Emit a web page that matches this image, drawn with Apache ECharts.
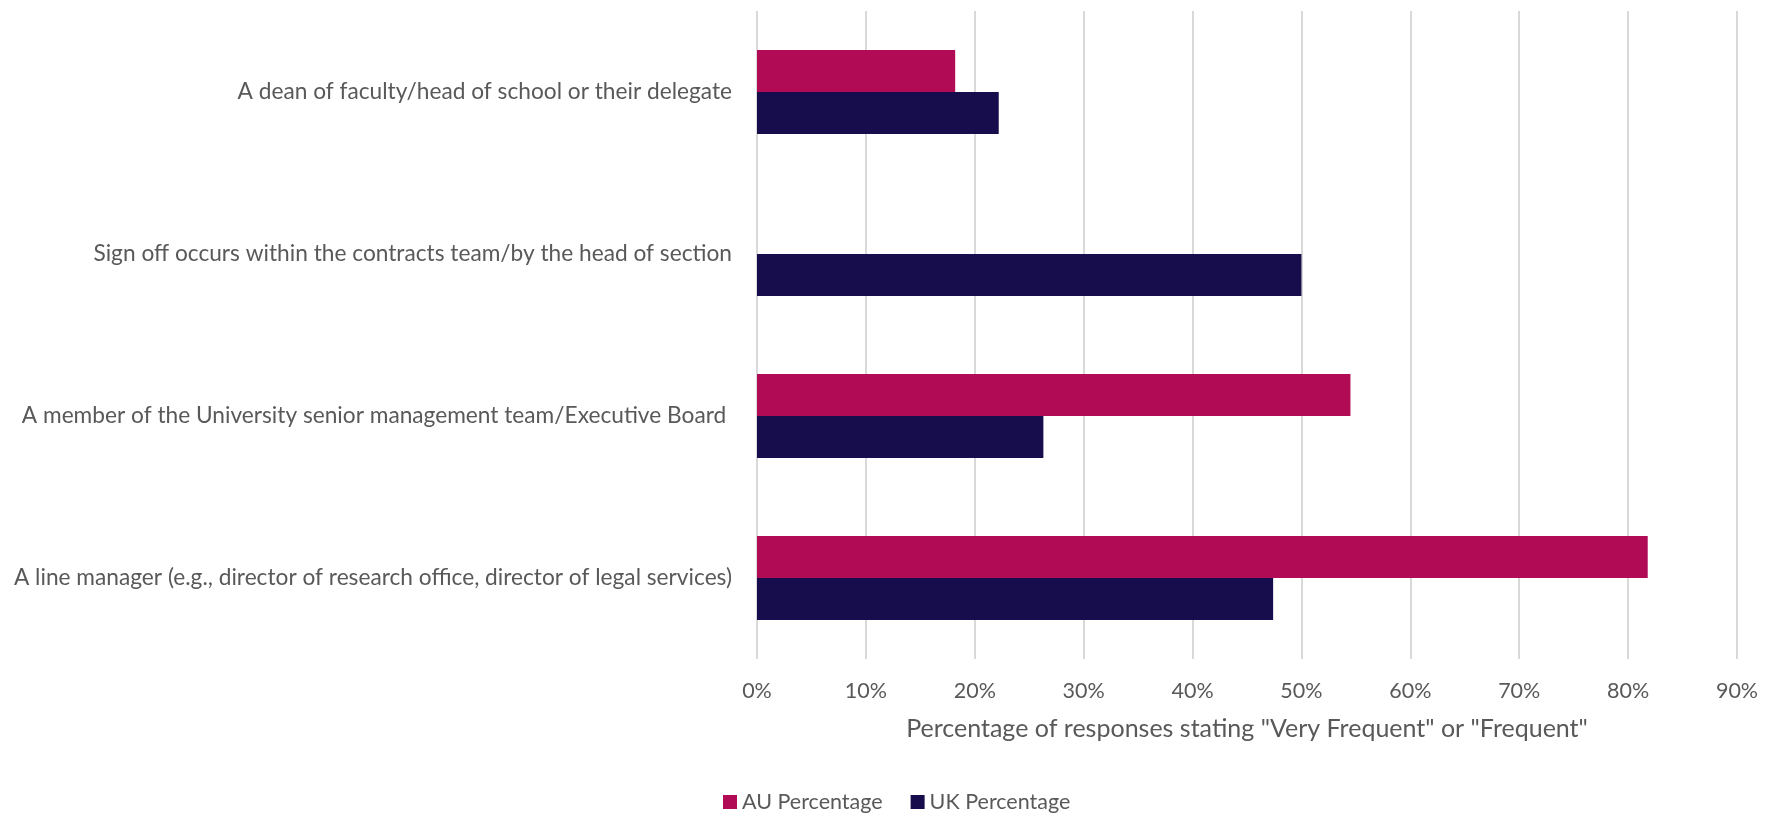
<!DOCTYPE html>
<html>
<head>
<meta charset="utf-8">
<script src="https://cdn.jsdelivr.net/npm/echarts@6/dist/echarts.min.js"></script>
<style>html,body{margin:0;padding:0;background:#fff}#c{width:1767px;height:813px}</style>
</head>
<body>
<div id="c"></div>
<script>
const categories = [
  "A dean of faculty/head of school or their delegate",
  "Sign off occurs within the contracts team/by the head of section",
  "A member of the University senior management team/Executive Board ",
  "A line manager (e.g., director of research office, director of legal services)"
];
const auPercentage = [18.2, 0, 54.5, 81.8];
const ukPercentage = [22.2, 50.0, 26.3, 47.4];
const xTicks = [0, 10, 20, 30, 40, 50, 60, 70, 80, 90];
const seriesNames = ["AU Percentage", "UK Percentage"];
const xAxisTitle = 'Percentage of responses stating "Very Frequent" or "Frequent"';

const FONT = 'Lato';
const TXT = '#595959';
const chart = echarts.init(document.getElementById('c'));
chart.setOption({
  animation: false,
  textStyle: { fontFamily: FONT },
  grid: { left: 757, right: 30, top: 11, bottom: 154, containLabel: false },
  legend: {
    data: seriesNames,
    top: 786, left: 718,
    icon: 'rect', itemWidth: 14, itemHeight: 14, itemGap: 28,
    textStyle: { color: TXT, fontSize: 21.5, fontFamily: FONT }
  },
  xAxis: {
    type: 'value',
    min: xTicks[0], max: xTicks[xTicks.length - 1], interval: xTicks[1] - xTicks[0],
    axisLine: { show: false }, axisTick: { show: false },
    splitLine: { show: true, lineStyle: { color: '#d9d9d9', width: 2 } },
    axisLabel: { formatter: '{value}%', color: TXT, fontSize: 21.5, margin: 21, fontFamily: FONT },
    name: xAxisTitle, nameLocation: 'middle', nameGap: 57,
    nameTextStyle: { color: TXT, fontSize: 25, fontFamily: FONT }
  },
  yAxis: {
    type: 'category', data: categories, inverse: true,
    axisLine: { show: false }, axisTick: { show: false },
    axisLabel: { color: TXT, fontSize: 22.7, margin: 25, fontFamily: FONT }
  },
  series: [
    { name: seriesNames[0], type: 'bar', data: auPercentage, barGap: '0%', barCategoryGap: '48%',
      itemStyle: { color: '#B10B56' } },
    { name: seriesNames[1], type: 'bar', data: ukPercentage, barGap: '0%', barCategoryGap: '48%',
      itemStyle: { color: '#170C4C' } }
  ]
});
</script>
</body>
</html>
